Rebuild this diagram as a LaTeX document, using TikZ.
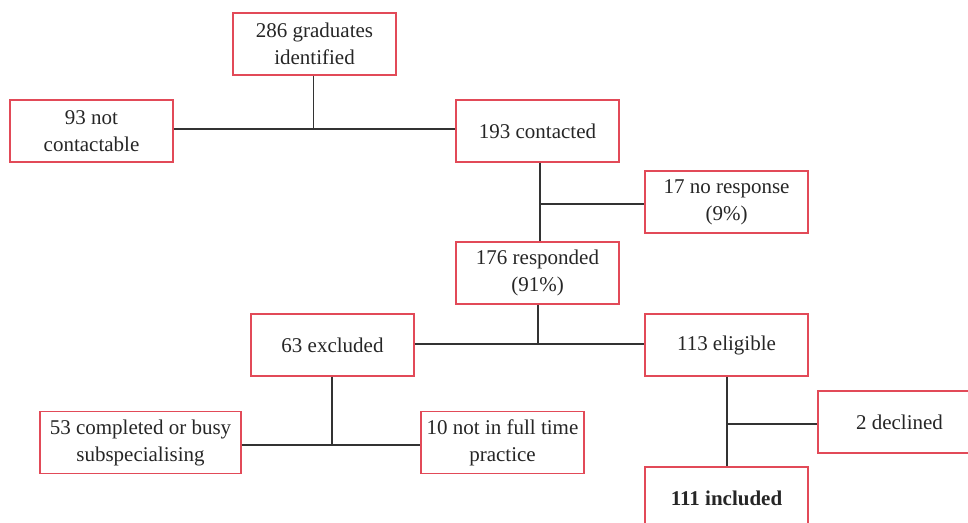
\documentclass[tikz,border=0pt]{standalone}
\usepackage{fontspec}
\setmainfont{Liberation Serif}
\definecolor{boxred}{RGB}{226,74,88}
\definecolor{linegray}{RGB}{51,51,51}
\begin{document}
\begin{tikzpicture}[x=1pt,y=-1pt,
  box/.style={draw=boxred,line width=1.1pt,rectangle,minimum width=163pt,minimum height=62pt,
    align=center,inner sep=0pt,font=\fontsize{21}{27}\selectfont,text=black!85},
  conn/.style={draw=linegray,line width=1.25pt}]
\clip (0,0) rectangle (968,522);
\useasboundingbox (0,0) rectangle (968,522);
\node[box] (g286) at (314.5,44) {286 graduates\\identified};
\node[box] (n93) at (91.5,131) {93 not\\contactable};
\node[box] (c193) at (537.5,131) {193 contacted};
\node[box] (nr17) at (726.5,202) {17 no response\\(9\%)};
\node[box] (r176) at (537.5,273) {176 responded\\(91\%)};
\node[box] (e63) at (332.5,345) {63 excluded};
\node[box] (el113) at (726.5,345) {113 eligible};
\node[box,minimum width=201pt] (c53) at (140.5,442.5) {53 completed or busy\\subspecialising};
\node[box] (nf10) at (502.5,442.5) {10 not in full time\\practice};
\node[box] (d2) at (899.5,422) {2 declined};
\node[box] (i111) at (726.5,498) {\textbf{111 included}};
\coordinate (j1) at (313.5,129);
\coordinate (jA) at (540,204);
\coordinate (jB) at (538,344);
\coordinate (jC) at (332,445);
\coordinate (jD) at (727,424);
\draw[conn] (g286.south -| j1) -- (j1);
\draw[conn] (n93.east |- j1) -- (c193.west |- j1);
\draw[conn] (c193.south -| jA) -- (r176.north -| jA);
\draw[conn] (jA) -- (nr17.west |- jA);
\draw[conn] (r176.south -| jB) -- (jB);
\draw[conn] (e63.east |- jB) -- (el113.west |- jB);
\draw[conn] (e63.south -| jC) -- (jC);
\draw[conn] (c53.east |- jC) -- (nf10.west |- jC);
\draw[conn] (el113.south -| jD) -- (i111.north -| jD);
\draw[conn] (jD) -- (d2.west |- jD);
\end{tikzpicture}
\end{document}
